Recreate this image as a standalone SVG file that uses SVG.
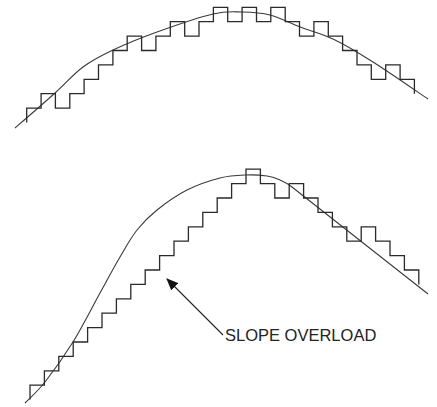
<svg xmlns="http://www.w3.org/2000/svg" width="437" height="407" viewBox="0 0 437 407">
<style>
.stair{fill:none;stroke:#2a2a2a;stroke-width:1.3;stroke-linejoin:miter}
.curve{fill:none;stroke:#3a3a3a;stroke-width:1.1}
.lead{fill:none;stroke:#222;stroke-width:1.1}
.lbl{font-family:"Liberation Sans",Arial,sans-serif;font-size:16.5px;fill:#222}
</style>
<defs>
<marker id="ah" viewBox="0 0 12 10" refX="11" refY="5" markerWidth="12" markerHeight="10" markerUnits="userSpaceOnUse" orient="auto">
<path d="M0,0 L12,5 L0,10 Z" fill="#111"/>
</marker>
</defs>
<rect width="437" height="407" fill="#fff"/>
<g id="top-waveform">
<path class="curve" d="M15,128 C21.7,122.2 43.7,103.2 55,93 C66.3,82.8 73.3,74.2 83,67 C92.7,59.8 100.7,55.8 113,50 C125.3,44.2 140.3,38 157,32 C173.7,26 198.8,17.3 213,14 C227.2,10.7 232.5,11.8 242,12 C251.5,12.2 260.3,12.5 270,15 C279.7,17.5 289.5,23 300,27 C310.5,31 320.8,33.2 333,39 C345.2,44.8 357.2,52 373,62 C388.8,72 418.8,92.8 428,99"/>
<path class="stair" d="M26.7,122.5 V108.1 H41.1 V93.7 H55.4 V108.1 H69.8 V93.7 H84.1 V79.3 H98.5 V64.9 H112.9 V50.5 H127.2 V36.1 H141.6 V50.5 H155.9 V36.1 H170.3 V21.7 H184.7 V36.1 H199 V21.7 H213.4 V7.3 H227.7 V21.7 H242.1 V7.3 H256.5 V21.7 H270.8 V7.3 H285.2 V21.7 H299.5 V36.1 H313.9 V21.7 H328.3 V36.1 H342.6 V50.5 H357 V64.9 H371.3 V79.3 H385.7 V64.9 H400.1 V79.3 H414.4 V93.7"/>
</g>
<g id="bottom-waveform">
<path class="curve" d="M25,403 C28.3,399.5 37,392.2 45,382 C53,371.8 63.8,356.8 73,342 C82.2,327.2 92.2,307.2 100,293 C107.8,278.8 113.8,267.5 120,257 C126.2,246.5 130.8,237.8 137,230 C143.2,222.2 148.7,216.7 157,210 C165.3,203.3 176.5,195.3 187,190 C197.5,184.7 210.2,180.5 220,178 C229.8,175.5 238.2,175.3 246,175 C253.8,174.7 261.3,175.2 267,176 C272.7,176.8 275.8,178.2 280,180 C284.2,181.8 288.5,184.3 292,187 L428,294"/>
<path class="stair" d="M30,399.6 V385.2 H44.4 V370.8 H58.8 V356.4 H73.2 V342 H87.6 V327.6 H102 V313.2 H116.4 V298.8 H130.8 V284.4 H145.2 V270 H159.6 V255.6 H174 V241.2 H188.4 V226.8 H202.8 V212.4 H217.2 V198 H231.6 V183.6 H246 V169.2 H260.4 V183.6 H274.8 V198 H289.2 V183.6 H303.6 V198 H318 V212.4 H332.4 V226.8 H346.8 V241.2 H361.2 V226.8 H375.6 V241.2 H390 V255.6 H404.4 V270 H418.8 V284.4"/>
</g>
<g id="connectors">
<path class="lead" d="M223,335 L167,279" marker-end="url(#ah)"/>
</g>
<g id="label-slope-overload">
<text class="lbl" x="225" y="341">SLOPE OVERLOAD</text>
</g>
</svg>
